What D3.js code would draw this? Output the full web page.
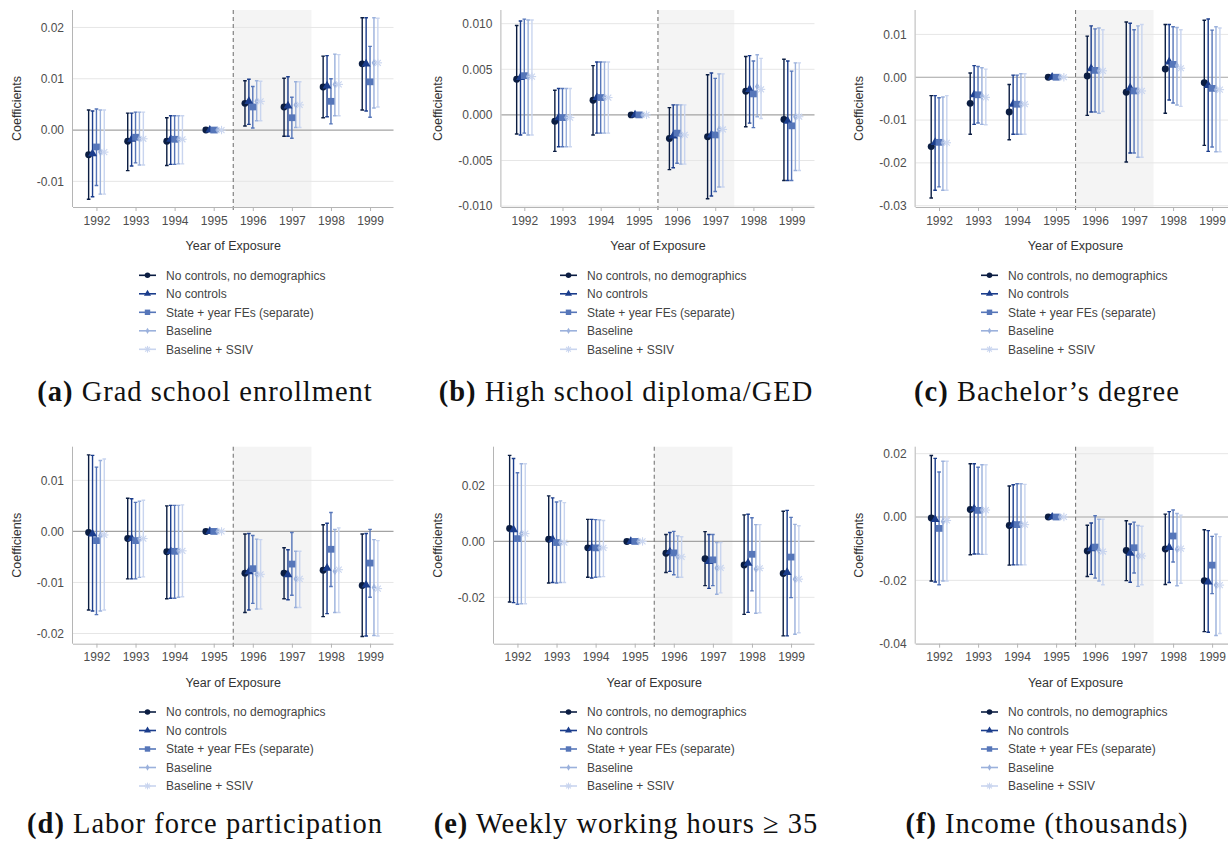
<!DOCTYPE html>
<html>
<head>
<meta charset="utf-8">
<script src="https://cdn.jsdelivr.net/npm/d3@7"></script>
<style>
  body { margin: 0; background: #fff; }
  svg { display: block; }
</style>
</head>
<body>
<svg id="chart" width="1228" height="843"></svg>
<script>
// ---------- shared categories ----------
const years = [1992, 1993, 1994, 1995, 1996, 1997, 1998, 1999];
const seriesNames = [
  "No controls, no demographics",
  "No controls",
  "State + year FEs (separate)",
  "Baseline",
  "Baseline + SSIV"
];
const seriesColors = ["#0b1d42", "#1b3d8c", "#5676b9", "#9bb1dc", "#c9d5ef"];
const seriesShapes = ["circle", "triangle", "square", "diamond", "asterisk"];
const seriesOffsets = [-0.2, -0.1, 0, 0.1, 0.2];

// ---------- (a) Grad school enrollment ----------
const gradEst = [
  [-0.0048, -0.0022, -0.0022, 0, 0.0052, 0.0045, 0.0084, 0.0129],
  [-0.0046, -0.0018, -0.0018, 0, 0.0056, 0.0047, 0.0086, 0.0129],
  [-0.0033, -0.0014, -0.0018, 0, 0.0045, 0.0024, 0.0056, 0.0094],
  [-0.0043, -0.0017, -0.0018, 0, 0.0056, 0.0049, 0.0089, 0.0131],
  [-0.0043, -0.0017, -0.0018, 0, 0.0056, 0.0049, 0.0089, 0.0131]
];
const gradLo = [
  [-0.0135, -0.0079, -0.0069, 0, 0.0008, -0.0012, 0.0024, 0.0039],
  [-0.0130, -0.0070, -0.0067, 0, 0.0011, -0.0012, 0.0026, 0.0037],
  [-0.0108, -0.0064, -0.0067, 0, 0.0004, -0.0016, 0.0012, 0.0025],
  [-0.0125, -0.0068, -0.0066, 0, 0.0018, 0.0005, 0.0028, 0.0043],
  [-0.0125, -0.0068, -0.0066, 0, 0.0018, 0.0005, 0.0028, 0.0045]
];
const gradHi = [
  [0.0039, 0.0033, 0.0024, 0, 0.0096, 0.0101, 0.0144, 0.0219],
  [0.0037, 0.0033, 0.0028, 0, 0.0099, 0.0104, 0.0145, 0.0219],
  [0.0041, 0.0035, 0.0028, 0, 0.0085, 0.0064, 0.0100, 0.0163],
  [0.0039, 0.0035, 0.0028, 0, 0.0096, 0.0094, 0.0148, 0.0219],
  [0.0039, 0.0035, 0.0028, 0, 0.0095, 0.0094, 0.0147, 0.0218]
];

// ---------- (b) High school diploma/GED ----------
const hsEst = [
  [0.0039, -0.0007, 0.0016, 0, -0.0026, -0.0024, 0.0026, -0.0005],
  [0.0041, -0.0003, 0.0019, 0, -0.0023, -0.0022, 0.0028, -0.0007],
  [0.0043, -0.0003, 0.0019, 0, -0.0020, -0.0022, 0.0023, -0.0012],
  [0.0042, -0.0003, 0.0019, 0, -0.0022, -0.0016, 0.0031, -0.0002],
  [0.0042, -0.0003, 0.0019, 0, -0.0022, -0.0016, 0.0028, -0.0002]
];
const hsLo = [
  [-0.0021, -0.0040, -0.0022, 0, -0.0060, -0.0092, -0.0013, -0.0072],
  [-0.0022, -0.0035, -0.0020, 0, -0.0058, -0.0089, -0.0009, -0.0072],
  [-0.0020, -0.0035, -0.0020, 0, -0.0053, -0.0084, -0.0014, -0.0072],
  [-0.0022, -0.0035, -0.0020, 0, -0.0054, -0.0079, -0.0002, -0.0061],
  [-0.0022, -0.0035, -0.0020, 0, -0.0054, -0.0079, -0.0004, -0.0061]
];
const hsHi = [
  [0.0098, 0.0027, 0.0054, 0, 0.0008, 0.0044, 0.0064, 0.0061],
  [0.0103, 0.0029, 0.0058, 0, 0.0011, 0.0046, 0.0065, 0.0059],
  [0.0105, 0.0029, 0.0058, 0, 0.0011, 0.0040, 0.0059, 0.0048],
  [0.0104, 0.0029, 0.0058, 0, 0.0011, 0.0045, 0.0066, 0.0057],
  [0.0104, 0.0029, 0.0058, 0, 0.0011, 0.0045, 0.0062, 0.0057]
];

// ---------- (c) Bachelor's degree ----------
const baEst = [
  [-0.0162, -0.0061, -0.0081, 0, 0.0003, -0.0035, 0.0019, -0.0013],
  [-0.0152, -0.0041, -0.0063, 0, 0.0020, -0.0025, 0.0036, -0.0019],
  [-0.0152, -0.0041, -0.0063, 0, 0.0016, -0.0032, 0.0030, -0.0026],
  [-0.0153, -0.0044, -0.0063, 0, 0.0015, -0.0032, 0.0027, -0.0029],
  [-0.0153, -0.0047, -0.0063, 0, 0.0015, -0.0032, 0.0021, -0.0029]
];
const baLo = [
  [-0.0282, -0.0133, -0.0146, 0, -0.0089, -0.0198, -0.0084, -0.0159],
  [-0.0264, -0.0110, -0.0133, 0, -0.0081, -0.0177, -0.0053, -0.0173],
  [-0.0256, -0.0107, -0.0133, 0, -0.0081, -0.0177, -0.0060, -0.0163],
  [-0.0264, -0.0110, -0.0133, 0, -0.0084, -0.0187, -0.0065, -0.0174],
  [-0.0264, -0.0111, -0.0133, 0, -0.0080, -0.0187, -0.0068, -0.0174]
];
const baHi = [
  [-0.0043, 0.0010, -0.0017, 0, 0.0096, 0.0129, 0.0123, 0.0133],
  [-0.0043, 0.0027, 0.0005, 0, 0.0120, 0.0126, 0.0123, 0.0136],
  [-0.0048, 0.0025, 0.0005, 0, 0.0113, 0.0111, 0.0118, 0.0110],
  [-0.0046, 0.0022, 0.0008, 0, 0.0115, 0.0120, 0.0116, 0.0118],
  [-0.0043, 0.0019, 0.0008, 0, 0.0111, 0.0123, 0.0111, 0.0115]
];

// ---------- (d) Labor force participation ----------
const lfpEst = [
  [-0.0002, -0.0014, -0.0040, 0, -0.0082, -0.0082, -0.0076, -0.0106],
  [-0.0005, -0.0014, -0.0039, 0, -0.0079, -0.0085, -0.0072, -0.0105],
  [-0.0018, -0.0018, -0.0039, 0, -0.0073, -0.0064, -0.0035, -0.0062],
  [-0.0008, -0.0015, -0.0038, 0, -0.0084, -0.0093, -0.0078, -0.0110],
  [-0.0007, -0.0014, -0.0038, 0, -0.0084, -0.0093, -0.0075, -0.0112]
];
const lfpLo = [
  [-0.0154, -0.0093, -0.0132, 0, -0.0159, -0.0132, -0.0167, -0.0206],
  [-0.0156, -0.0093, -0.0131, 0, -0.0154, -0.0134, -0.0161, -0.0205],
  [-0.0163, -0.0093, -0.0131, 0, -0.0141, -0.0125, -0.0108, -0.0129],
  [-0.0156, -0.0090, -0.0129, 0, -0.0152, -0.0149, -0.0159, -0.0204],
  [-0.0154, -0.0089, -0.0128, 0, -0.0152, -0.0149, -0.0159, -0.0205]
];
const lfpHi = [
  [0.0150, 0.0065, 0.0050, 0, -0.0005, -0.0032, 0.0013, -0.0005],
  [0.0149, 0.0064, 0.0051, 0, -0.0004, -0.0036, 0.0016, -0.0004],
  [0.0126, 0.0057, 0.0051, 0, -0.0008, -0.0002, 0.0037, 0.0004],
  [0.0139, 0.0059, 0.0051, 0, -0.0015, -0.0039, 0.0004, -0.0016],
  [0.0142, 0.0061, 0.0052, 0, -0.0016, -0.0039, 0.0007, -0.0018]
];

// ---------- (e) Weekly working hours >= 35 ----------
const hrsEst = [
  [0.0046, 0.0008, -0.0023, 0, -0.0042, -0.0062, -0.0084, -0.0115],
  [0.0042, 0.0007, -0.0023, 0, -0.0037, -0.0072, -0.0078, -0.0111],
  [0.0010, -0.0004, -0.0023, 0, -0.0041, -0.0066, -0.0046, -0.0056],
  [0.0028, -0.0004, -0.0023, 0, -0.0055, -0.0095, -0.0099, -0.0135],
  [0.0028, -0.0004, -0.0023, 0, -0.0055, -0.0095, -0.0096, -0.0135]
];
const hrsLo = [
  [-0.0217, -0.0149, -0.0128, 0, -0.0111, -0.0158, -0.0261, -0.0338],
  [-0.0219, -0.0147, -0.0131, 0, -0.0107, -0.0168, -0.0254, -0.0338],
  [-0.0225, -0.0149, -0.0128, 0, -0.0119, -0.0158, -0.0177, -0.0201],
  [-0.0223, -0.0147, -0.0127, 0, -0.0128, -0.0189, -0.0257, -0.0332],
  [-0.0223, -0.0147, -0.0126, 0, -0.0128, -0.0184, -0.0255, -0.0327]
];
const hrsHi = [
  [0.0308, 0.0163, 0.0079, 0, 0.0025, 0.0035, 0.0095, 0.0108],
  [0.0297, 0.0156, 0.0079, 0, 0.0032, 0.0025, 0.0097, 0.0111],
  [0.0246, 0.0141, 0.0078, 0, 0.0036, 0.0025, 0.0085, 0.0086],
  [0.0278, 0.0145, 0.0077, 0, 0.0020, -0.0004, 0.0060, 0.0061],
  [0.0278, 0.0139, 0.0075, 0, 0.0017, -0.0004, 0.0060, 0.0056]
];

// ---------- (f) Income (thousands) ----------
const incEst = [
  [-0.0003, 0.0024, -0.0027, 0, -0.0107, -0.0106, -0.0101, -0.0201],
  [-0.0008, 0.0026, -0.0024, 0, -0.0100, -0.0114, -0.0096, -0.0205],
  [-0.0036, 0.0021, -0.0024, 0, -0.0095, -0.0097, -0.0060, -0.0152],
  [-0.0014, 0.0022, -0.0023, 0, -0.0105, -0.0123, -0.0102, -0.0215],
  [-0.0011, 0.0022, -0.0024, 0, -0.0109, -0.0123, -0.0100, -0.0215]
];
const incLo = [
  [-0.0202, -0.0119, -0.0152, 0, -0.0188, -0.0201, -0.0213, -0.0362],
  [-0.0205, -0.0117, -0.0151, 0, -0.0181, -0.0206, -0.0207, -0.0364],
  [-0.0214, -0.0117, -0.0151, 0, -0.0193, -0.0177, -0.0142, -0.0242],
  [-0.0202, -0.0118, -0.0151, 0, -0.0202, -0.0219, -0.0217, -0.0374],
  [-0.0202, -0.0118, -0.0151, 0, -0.0214, -0.0214, -0.0209, -0.0368]
];
const incHi = [
  [0.0194, 0.0168, 0.0098, 0, -0.0026, -0.0012, 0.0009, -0.0040],
  [0.0185, 0.0168, 0.0102, 0, -0.0019, -0.0022, 0.0017, -0.0043],
  [0.0142, 0.0157, 0.0105, 0, 0.0004, -0.0016, 0.0022, -0.0061],
  [0.0176, 0.0165, 0.0105, 0, -0.0007, -0.0027, 0.0011, -0.0054],
  [0.0176, 0.0165, 0.0103, 0, -0.0007, -0.0029, 0.0006, -0.0062]
];

// ---------- axis ticks, ranges and captions ----------
const gradTicks = [-0.01, 0, 0.01, 0.02];
const hsTicks = [-0.010, -0.005, 0, 0.005, 0.010];
const baTicks = [-0.03, -0.02, -0.01, 0, 0.01];
const lfpTicks = [-0.02, -0.01, 0, 0.01];
const hrsTicks = [-0.02, 0, 0.02];
const incTicks = [-0.04, -0.02, 0, 0.02];

const gradRange = [-0.0150, 0.0234];
const hsRange = [-0.0101, 0.0115];
const baRange = [-0.0303, 0.0157];
const lfpRange = [-0.0220, 0.0166];
const hrsRange = [-0.0366, 0.0339];
const incRange = [-0.0400, 0.0222];

const captionLetters = ["(a)", "(b)", "(c)", "(d)", "(e)", "(f)"];
const captionTitles = [
  "Grad school enrollment",
  "High school diploma/GED",
  "Bachelor\u2019s degree",
  "Labor force participation",
  "Weekly working hours \u2265 35",
  "Income (thousands)"
];

const panels = [
  { est: gradEst, lo: gradLo, hi: gradHi, ticks: gradTicks, range: gradRange, digits: 2, left: 73 },
  { est: hsEst, lo: hsLo, hi: hsHi, ticks: hsTicks, range: hsRange, digits: 3, left: 80.4 },
  { est: baEst, lo: baLo, hi: baHi, ticks: baTicks, range: baRange, digits: 2, left: 73.6 },
  { est: lfpEst, lo: lfpLo, hi: lfpHi, ticks: lfpTicks, range: lfpRange, digits: 2, left: 73 },
  { est: hrsEst, lo: hrsLo, hi: hrsHi, ticks: hrsTicks, range: hrsRange, digits: 2, left: 73 },
  { est: incEst, lo: incLo, hi: incHi, ticks: incTicks, range: incRange, digits: 2, left: 73.7 }
];

// ---------- layout ----------
const colX = [0, 421, 842];
const rowY = [0, 436.7];
const captionY = [401, 396];
const plotTop = 10, plotBottom = 207, plotRight = 393.5;
const SANS = '"Liberation Sans", Arial, Helvetica, sans-serif';
const SERIF = '"Liberation Serif", "Times New Roman", serif';

const svg = d3.select("#chart");

// marker drawing for each series shape
function drawMarker(sel, shape, color, scale) {
  const k = scale || 1;
  if (shape === "asterisk") {
    const r = 4.2 * k;
    const g = sel.append("g").attr("stroke", color).attr("stroke-width", 1.1).attr("fill", "none");
    [0, 45, 90, 135].forEach(a => {
      const rad = a * Math.PI / 180;
      g.append("line")
        .attr("x1", -r * Math.cos(rad)).attr("y1", -r * Math.sin(rad))
        .attr("x2", r * Math.cos(rad)).attr("y2", r * Math.sin(rad));
    });
    return;
  }
  const types = {
    circle: [d3.symbolCircle, 38],
    triangle: [d3.symbolTriangle, 34],
    square: [d3.symbolSquare, 46],
    diamond: [d3.symbolDiamond, 18]
  };
  const [type, size] = types[shape];
  sel.append("path")
    .attr("d", d3.symbol().type(type).size(size * k * k)())
    .attr("fill", color);
}

panels.forEach((p, i) => {
  const row = Math.floor(i / 3);
  const x0 = colX[i % 3], y0 = rowY[row];
  const g = svg.append("g").attr("transform", `translate(${x0},${y0})`);

  const x = d3.scaleLinear().domain([1991.4, 1999.6]).range([p.left, plotRight]);
  const y = d3.scaleLinear().domain(p.range).range([plotBottom, plotTop]);

  // shaded exposure window
  g.append("rect")
    .attr("x", x(1995.5)).attr("y", plotTop)
    .attr("width", x(1997.5) - x(1995.5)).attr("height", plotBottom - plotTop)
    .attr("fill", "#f4f4f4");

  // horizontal grid
  g.append("g").selectAll("line").data(p.ticks).join("line")
    .attr("x1", p.left).attr("x2", plotRight)
    .attr("y1", d => y(d)).attr("y2", d => y(d))
    .attr("stroke", d => d === 0 ? "#a3a3a3" : "#e6e6e6")
    .attr("stroke-width", d => d === 0 ? 1.2 : 1);

  // vertical dashed line at policy change
  g.append("line")
    .attr("x1", x(1995.5)).attr("x2", x(1995.5))
    .attr("y1", plotTop).attr("y2", plotBottom + 3)
    .attr("stroke", "#777").attr("stroke-width", 1.1)
    .attr("stroke-dasharray", "4,3");

  // axes
  const xAxis = g.append("g")
    .attr("transform", `translate(0,${plotBottom})`)
    .call(d3.axisBottom(x).tickValues(years).tickFormat(d3.format("d")).tickSize(4).tickPadding(5));
  xAxis.select(".domain").attr("stroke", "#b5b5b5").attr("d", `M${p.left},0.5H${plotRight}`);
  xAxis.selectAll(".tick line").attr("stroke", "#b5b5b5");
  xAxis.selectAll(".tick text").attr("fill", "#4d4d4d")
    .style("font-family", SANS).style("font-size", "12px");

  const yAxis = g.append("g")
    .attr("transform", `translate(${p.left},0)`)
    .call(d3.axisLeft(y).tickValues(p.ticks)
      .tickFormat(d => d.toFixed(p.digits)).tickSize(0).tickPadding(9));
  yAxis.select(".domain").attr("stroke", "#b5b5b5").attr("d", `M-0.5,${plotTop}V${plotBottom}`);
  yAxis.selectAll(".tick text").attr("fill", "#4d4d4d")
    .style("font-family", SANS).style("font-size", "12px");

  // axis titles
  g.append("text")
    .attr("transform", `translate(21,${(plotTop + plotBottom) / 2}) rotate(-90)`)
    .attr("text-anchor", "middle")
    .attr("fill", "#333")
    .style("font-family", SANS).style("font-size", "12.5px")
    .text("Coefficients");
  g.append("text")
    .attr("x", (p.left + plotRight) / 2).attr("y", 250)
    .attr("text-anchor", "middle")
    .attr("fill", "#333")
    .style("font-family", SANS).style("font-size", "12.5px")
    .text("Year of Exposure");

  // error bars, then point estimates
  const cap = 1.8;
  seriesNames.forEach((name, s) => {
    const color = seriesColors[s];
    const bars = g.append("g").attr("stroke", color).attr("stroke-width", 1.4).attr("fill", "none");
    years.forEach((yr, j) => {
      const cx = x(yr + seriesOffsets[s]);
      const yl = y(p.lo[s][j]), yh = y(p.hi[s][j]);
      if (Math.abs(yl - yh) < 0.5) return;
      bars.append("path")
        .attr("d", `M${cx},${yh}V${yl}M${cx - cap},${yh}H${cx + cap}M${cx - cap},${yl}H${cx + cap}`);
    });
  });
  seriesNames.forEach((name, s) => {
    years.forEach((yr, j) => {
      const m = g.append("g")
        .attr("transform", `translate(${x(yr + seriesOffsets[s])},${y(p.est[s][j])})`);
      drawMarker(m, seriesShapes[s], seriesColors[s], 1);
    });
  });

  // legend
  const leg = g.append("g");
  seriesNames.forEach((name, s) => {
    const ly = 275.3 + 18.5 * s;
    leg.append("line")
      .attr("x1", 139).attr("x2", 156).attr("y1", ly).attr("y2", ly)
      .attr("stroke", seriesColors[s]).attr("stroke-width", 1.6);
    const m = leg.append("g").attr("transform", `translate(147.5,${ly})`);
    drawMarker(m, seriesShapes[s], seriesColors[s], 0.8);
    leg.append("text")
      .attr("x", 166).attr("y", ly).attr("dy", "0.35em")
      .attr("fill", "#444")
      .style("font-family", SANS).style("font-size", "12px")
      .text(name);
  });

  // sub-figure caption
  const caption = g.append("text")
    .attr("x", 205).attr("y", captionY[row])
    .attr("text-anchor", "middle")
    .attr("fill", "#111")
    .style("font-family", SERIF).style("font-size", "28.5px")
    .style("letter-spacing", "1px");
  caption.append("tspan").attr("font-weight", "bold").text(captionLetters[i]);
  caption.append("tspan").text(" " + captionTitles[i]);
});
</script>
</body>
</html>
